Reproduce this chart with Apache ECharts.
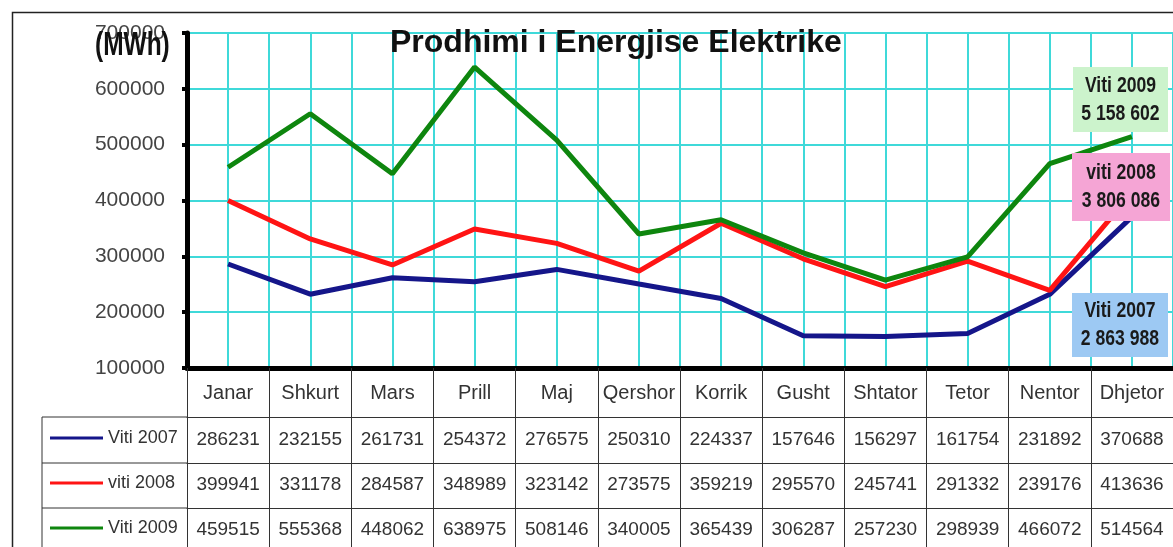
<!DOCTYPE html>
<html>
<head>
<meta charset="utf-8">
<title>Prodhimi i Energjise Elektrike</title>
<script src="https://cdn.jsdelivr.net/npm/echarts@6/dist/echarts.min.js"></script>
<style>
  html, body { margin: 0; padding: 0; background: #fff; }
  #chart { width: 1173px; height: 547px; }
</style>
</head>
<body>
<div id="chart"></div>
<script>
// te dhenat (MWh)
const months = ['Janar', 'Shkurt', 'Mars', 'Prill', 'Maj', 'Qershor', 'Korrik', 'Gusht', 'Shtator', 'Tetor', 'Nentor', 'Dhjetor'];
const viti2007 = [286231, 232155, 261731, 254372, 276575, 250310, 224337, 157646, 156297, 161754, 231892, 370688];
const viti2008 = [399941, 331178, 284587, 348989, 323142, 273575, 359219, 295570, 245741, 291332, 239176, 413636];
const viti2009 = [459515, 555368, 448062, 638975, 508146, 340005, 365439, 306287, 257230, 298939, 466072, 514564];
const seriesNames = ['Viti 2007', 'viti 2008', 'Viti 2009'];
const yMin = 100000, yMax = 700000, yStep = 100000;

const font = "'Liberation Sans', Arial, sans-serif";
const gridCyan = '#3fd9d9';
const colors = ['#15168a', '#ff1414', '#0e860e'];

// totali vjetor, formatuar me hapesira: 5 158 602
function total(arr) {
  let s = arr.reduce((a, b) => a + b, 0);
  return String(s).replace(/\B(?=(\d{3})+(?!\d))/g, ' ');
}

let myChart = echarts.init(document.getElementById('chart'));

// rreshtat e tabeles: [te dhenat, offset, margin]
const tableRows = [
  [viti2007, 49, 23],
  [viti2008, 95, 22],
  [viti2009, 140, 22],
];

let xAxes = [
  {
    type: 'category',
    data: months,
    position: 'bottom',
    boundaryGap: true,
    axisLine: { lineStyle: { color: '#000', width: 5 } },
    axisTick: { show: true, interval: 0, length: 49, lineStyle: { color: '#333', width: 1 } },
    axisLabel: { interval: 0, margin: 25, verticalAlign: 'middle', fontFamily: font, fontSize: 20, color: '#333' },
    splitLine: { show: false },
  },
];
tableRows.forEach(([vals, offset, margin]) => {
  xAxes.push({
    type: 'category',
    data: vals.map(String),
    position: 'bottom',
    offset: offset,
    boundaryGap: true,
    axisLine: { lineStyle: { color: '#333', width: 1 } },
    axisTick: { show: true, interval: 0, length: 46, lineStyle: { color: '#333', width: 1 } },
    axisLabel: { interval: 0, margin: margin, verticalAlign: 'middle', fontFamily: font, fontSize: 19, color: '#333' },
    splitLine: { show: false },
  });
});
// boshti i fshehur per vijat vertikale te rrjetes (cdo gjysme muaji)
xAxes.push({
  type: 'value',
  min: 0,
  max: months.length * 2,
  interval: 1,
  position: 'top',
  axisLine: { show: false },
  axisTick: { show: false },
  axisLabel: { show: false },
  splitLine: { show: true, lineStyle: { color: gridCyan, width: 2 } },
});

function noteBox(x, y, w, h, fill, name, arr) {
  return {
    type: 'group',
    left: x,
    top: y,
    z: 100,
    children: [
      { type: 'rect', z: 100, shape: { x: 0, y: 0, width: w, height: h }, style: { fill: fill } },
      {
        type: 'text',
        z: 101,
        x: w / 2,
        y: h / 2,
        scaleX: 0.8,
        style: {
          text: name + '\n' + total(arr),
          fontFamily: font,
          fontWeight: 'bold',
          fontSize: 22,
          lineHeight: 28,
          fill: '#1a1a1a',
          align: 'center',
          verticalAlign: 'middle',
        },
      },
    ],
  };
}

// legjenda: nje per cdo rresht te tabeles
let legends = seriesNames.map((n, i) => ({
  data: [n],
  left: 50,
  top: 429 + i * 45,
  padding: 0,
  itemGap: 4,
  itemWidth: 53,
  itemHeight: 3,
  icon: 'rect',
  textStyle: { fontFamily: font, fontSize: 18, color: '#333' },
}));

let option = {
  backgroundColor: '#fff',
  animation: false,
  title: {
    text: 'Prodhimi i Energjise Elektrike',
    left: 385,
    top: 22,
    textStyle: { fontFamily: font, fontWeight: 'bold', fontSize: 32, color: '#111' },
  },
  legend: legends,
  grid: { left: 187, top: 33, width: 991, height: 335, containLabel: false },
  xAxis: xAxes,
  yAxis: {
    type: 'value',
    min: yMin,
    max: yMax,
    interval: yStep,
    axisLine: { show: true, lineStyle: { color: '#000', width: 5 } },
    axisTick: { show: true, length: 5, lineStyle: { color: '#000', width: 4 } },
    axisLabel: { margin: 22, fontFamily: font, fontSize: 21, color: '#444', formatter: (v) => String(v) },
    splitLine: { show: true, lineStyle: { color: gridCyan, width: 2 } },
  },
  series: [viti2007, viti2008, viti2009].map((d, i) => ({
    name: seriesNames[i],
    type: 'line',
    data: d,
    xAxisIndex: 0,
    symbol: 'none',
    color: colors[i],
    lineStyle: { width: 5, color: colors[i] },
    z: 3 + i,
  })),
  graphic: [
    // korniza e jashtme
    { type: 'rect', silent: true, shape: { x: 12.5, y: 12.5, width: 1300, height: 700 }, style: { fill: 'none', stroke: '#222', lineWidth: 1.5 } },
    // kolona e legjendes ne tabele
    { type: 'line', silent: true, shape: { x1: 42, y1: 417, x2: 187, y2: 417 }, style: { stroke: '#333', lineWidth: 1 } },
    { type: 'line', silent: true, shape: { x1: 42, y1: 463, x2: 187, y2: 463 }, style: { stroke: '#333', lineWidth: 1 } },
    { type: 'line', silent: true, shape: { x1: 42, y1: 508, x2: 187, y2: 508 }, style: { stroke: '#333', lineWidth: 1 } },
    { type: 'line', silent: true, shape: { x1: 42, y1: 417, x2: 42, y2: 560 }, style: { stroke: '#333', lineWidth: 1 } },
    // (MWh)
    {
      type: 'text',
      x: 95,
      y: 29,
      scaleX: 0.72,
      z: 100,
      style: { text: '(MWh)', fontFamily: font, fontWeight: 'bold', fontSize: 34, fill: '#111' },
    },
    noteBox(1073, 67, 95, 65, '#ccf3cc', 'Viti 2009', viti2009),
    noteBox(1072, 153, 98, 68, '#f5a5d5', 'viti 2008', viti2008),
    noteBox(1072, 293, 96, 64, '#9dc9f3', 'Viti 2007', viti2007),
  ],
};
myChart.setOption(option);
</script>
</body>
</html>
